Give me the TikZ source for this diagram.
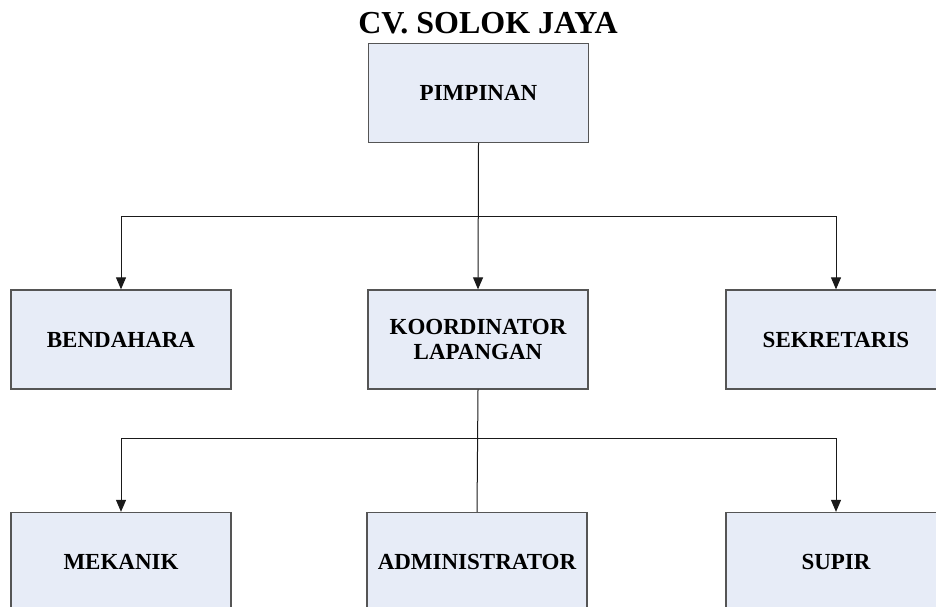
\documentclass[tikz,border=0pt]{standalone}
\usepackage{fontspec}
\setmainfont{Liberation Serif}
\usetikzlibrary{arrows.meta}
\definecolor{boxfill}{HTML}{E7ECF7}
\definecolor{boxline}{HTML}{555555}
\definecolor{conn}{HTML}{1A1A1A}
\begin{document}
\begin{tikzpicture}[x=1pt,y=-1pt,
  orgbox/.style={draw=boxline,line width=1.3pt,fill=boxfill,minimum width=220pt,minimum height=99pt,inner sep=0pt,align=center,font=\fontsize{23}{25}\selectfont\bfseries},
  conline/.style={draw=conn,line width=1pt},
  arr/.style={conline,-{Triangle[width=10pt,length=12pt]}}]
\useasboundingbox (0,0) rectangle (936,607);
\node[font=\fontsize{32}{34}\selectfont\bfseries,inner sep=0pt] (title) at (488,23) {CV. SOLOK JAYA};
\node[orgbox] (pimp) at (478.5,93) {PIMPINAN};
\node[orgbox] (bend) at (121,339.5) {BENDAHARA};
\node[orgbox] (koord) at (478,339.5) {KOORDINATOR\\LAPANGAN};
\node[orgbox] (sek) at (836,339.5) {SEKRETARIS};
\node[orgbox] (mek) at (121,562) {MEKANIK};
\node[orgbox] (admin) at (477,562) {ADMINISTRATOR};
\node[orgbox] (supir) at (836,562) {SUPIR};
\coordinate (j1) at (478,216);
\coordinate (j2) at (478,438);
\draw[arr] (pimp.south) -- (koord.north);
\draw[arr] (j1) -| (bend.north);
\draw[arr] (j1) -| (sek.north);
\draw[conline] (koord.south) -- (admin.north);
\draw[arr] (j2) -| (mek.north);
\draw[arr] (j2) -| (supir.north);
\end{tikzpicture}
\end{document}
